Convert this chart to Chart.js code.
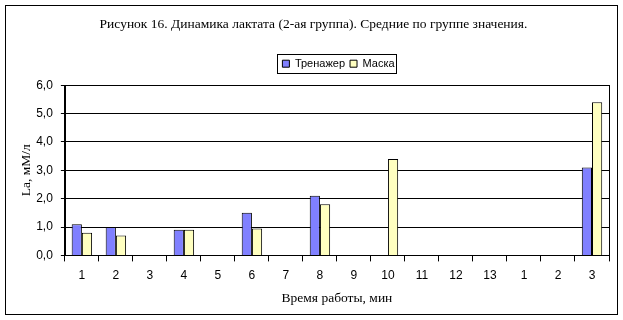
<!DOCTYPE html>
<html>
<head>
<meta charset="utf-8">
<script src="https://cdn.jsdelivr.net/npm/chart.js@4/dist/chart.umd.min.js"></script>
<style>
  html, body { margin: 0; padding: 0; background: #fff; }
  #wrap { width: 623px; height: 320px; position: relative; }
</style>
</head>
<body>
<div id="wrap"><canvas id="lactateChart"></canvas></div>
<script>
// Minutes of work (two sessions: 1..13, then 1..3)
const minutes = ['1', '2', '3', '4', '5', '6', '7', '8', '9', '10', '11', '12', '13', '1', '2', '3'];
const trainerValues = [1.1, 1.0, null, 0.9, null, 1.5, null, 2.1, null, null, null, null, null, null, null, 3.1];
const maskValues = [0.8, 0.7, null, 0.9, null, 0.95, null, 1.8, null, 3.4, null, null, null, null, null, 5.4];
const yTicks = [0, 1, 2, 3, 4, 5, 6];

const serif = "'Liberation Serif', 'Times New Roman', serif";
const sans = "'Liberation Sans', Arial, sans-serif";

Chart.defaults.font.family = sans;
Chart.defaults.color = '#000';

const legendShift = 25;   // Excel puts the legend a bit right of centre
const legendExtra = 6;    // extra space under the legend

// Frame round the chart, plot area border and legend box (Excel look)
const framePlugin = {
    id: 'frame',
    beforeLayout(chart) {
        const legend = chart.legend;
        if (legend && !legend._patched) {
            const fit = legend.fit.bind(legend);
            legend.fit = function () {
                fit();
                this.height += legendExtra;
            };
            legend._patched = true;
        }
    },
    afterLayout(chart) {
        const legend = chart.legend;
        legend.left += legendShift;
        legend.right += legendShift;
    },
    afterDraw(chart) {
        const ctx = chart.ctx;
        const area = chart.chartArea;
        ctx.save();
        ctx.strokeStyle = '#000';
        ctx.lineWidth = 1;
        ctx.strokeRect(5.5, 5.5, 612, 309);
        ctx.strokeRect(Math.round(area.left) + 0.5, Math.round(area.top) + 0.5,
            Math.round(area.right - area.left), Math.round(area.bottom - area.top));

        const boxes = chart.legend.legendHitBoxes;
        if (boxes && boxes.length) {
            const left = Math.min(...boxes.map(b => b.left)) - 5;
            const right = Math.max(...boxes.map(b => b.left + b.width)) + 2;
            const top = Math.min(...boxes.map(b => b.top)) - 4;
            const bottom = Math.max(...boxes.map(b => b.top + b.height)) + 4;
            ctx.strokeRect(Math.round(left) + 0.5, Math.round(top) + 0.5,
                Math.round(right - left), Math.round(bottom - top));
        }
        ctx.restore();
    }
};

new Chart(document.getElementById('lactateChart'), {
    type: 'bar',
    data: {
        labels: minutes,
        datasets: [
            {
                label: 'Тренажер',
                data: trainerValues,
                backgroundColor: '#8080FF',
                borderColor: '#000',
                borderWidth: 1
            },
            {
                label: 'Маска',
                data: maskValues,
                backgroundColor: '#FFFFC0',
                borderColor: '#000',
                borderWidth: 1
            }
        ]
    },
    options: {
        responsive: true,
        maintainAspectRatio: false,
        animation: false,
        layout: { padding: { left: 18, right: 14, top: 6, bottom: 13 } },
        datasets: {
            bar: { categoryPercentage: 0.6, barPercentage: 1.0 }
        },
        scales: {
            x: {
                grid: {
                    offset: true,
                    drawOnChartArea: false,
                    drawTicks: true,
                    tickLength: 6,
                    color: '#000'
                },
                border: { color: '#000' },
                ticks: { font: { size: 12 }, padding: 7, maxRotation: 0, autoSkip: false },
                title: {
                    display: true,
                    text: 'Время работы, мин',
                    font: { family: serif, size: 13.5 },
                    padding: { top: 1, bottom: 0 }
                }
            },
            y: {
                min: 0,
                max: 6,
                afterBuildTicks(scale) {
                    scale.ticks = yTicks.map(v => ({ value: v }));
                },
                grid: { color: '#000', tickLength: 4 },
                border: { color: '#000' },
                ticks: {
                    font: { size: 12 },
                    padding: 8,
                    callback: v => v.toFixed(1).replace('.', ',')
                },
                title: {
                    display: true,
                    text: 'La, мМ/л',
                    font: { family: serif, size: 13.5 },
                    padding: { top: 0, bottom: -6 }
                }
            }
        },
        plugins: {
            title: {
                display: true,
                text: 'Рисунок 16. Динамика лактата (2-ая группа). Средние по группе значения.',
                font: { family: serif, size: 13.5, weight: 'normal' },
                padding: { top: 10, bottom: 21 }
            },
            legend: {
                position: 'top',
                labels: {
                    boxWidth: 7,
                    boxHeight: 7,
                    padding: 5,
                    font: { size: 11 },
                    color: '#000'
                }
            },
            tooltip: { enabled: false }
        }
    },
    plugins: [framePlugin]
});
</script>
</body>
</html>
